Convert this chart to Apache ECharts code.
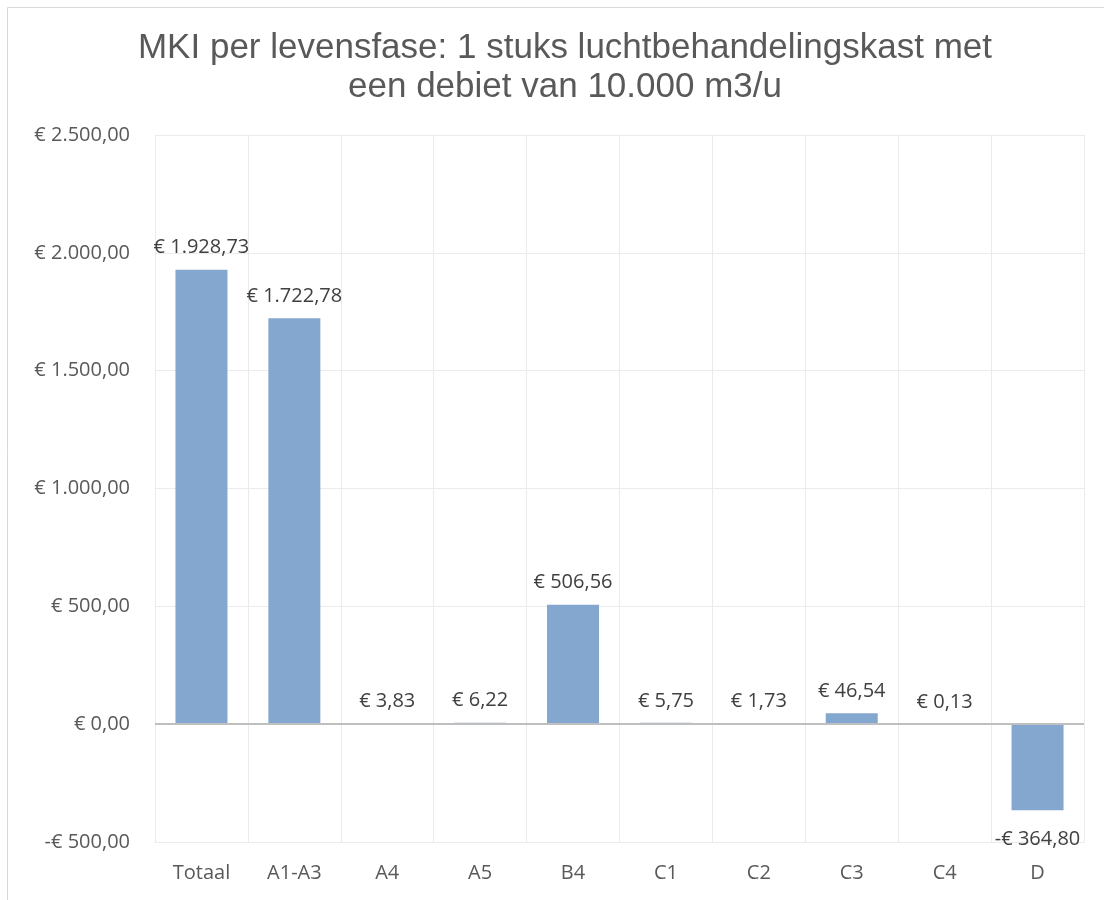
<!DOCTYPE html>
<html>
<head>
<meta charset="utf-8">
<script src="https://cdn.jsdelivr.net/npm/echarts@6/dist/echarts.min.js"></script>
<style>
  html, body { margin: 0; padding: 0; background: #fff; }
  #main { width: 1104px; height: 900px; }
</style>
</head>
<body>
<div id="main"></div>
<script>
var categories = ['Totaal', 'A1-A3', 'A4', 'A5', 'B4', 'C1', 'C2', 'C3', 'C4', 'D'];
var mki = [1928.73, 1722.78, 3.83, 6.22, 506.56, 5.75, 1.73, 46.54, 0.13, -364.80];
var yTicks = { min: -500, max: 2500, step: 500 };

// dutch euro notation: € 1.928,73
var euro = function(v) {
  var neg = v < 0;
  var parts = Math.abs(v).toFixed(2).split('.');
  var whole = parts[0].replace(/\B(?=(\d{3})+(?!\d))/g, '.');
  return (neg ? '-' : '') + '€ ' + whole + ',' + parts[1];
};

var barData = mki.map(function(v) {
  if (v < 0) {
    return { value: v, label: { position: 'bottom', distance: 19 } };
  }
  return v;
});

var myChart = echarts.init(document.getElementById('main'));

var option = {
  backgroundColor: '#fff',
  animation: false,
  title: {
    text: 'MKI per levensfase: 1 stuks luchtbehandelingskast met\neen debiet van 10.000 m3/u',
    left: 560,
    top: 24,
    textAlign: 'center',
    textStyle: {
      fontFamily: 'Liberation Sans',
      fontSize: 35,
      fontWeight: 'normal',
      color: '#595959',
      lineHeight: 39
    }
  },
  graphic: [{
    type: 'rect',
    shape: { x: 7.5, y: 7.5, width: 1200, height: 1000 },
    style: { fill: 'none', stroke: '#d9d9d9', lineWidth: 1 },
    silent: true
  }],
  grid: {
    left: 155,
    right: 20,
    top: 135,
    bottom: 58,
    show: false
  },
  xAxis: {
    type: 'category',
    data: categories,
    axisLine: { onZero: false, lineStyle: { color: '#ebebeb' } },
    axisTick: { show: false },
    splitLine: { show: true, lineStyle: { color: '#ebebeb', width: 1 } },
    axisLabel: {
      margin: 21,
      fontFamily: 'Open Sans',
      fontSize: 20,
      color: '#595959'
    }
  },
  yAxis: {
    type: 'value',
    min: yTicks.min,
    max: yTicks.max,
    interval: yTicks.step,
    axisLine: { show: false },
    axisTick: { show: false },
    splitLine: { lineStyle: { color: '#ebebeb', width: 1 } },
    axisLabel: {
      margin: 25,
      fontFamily: 'Open Sans',
      fontSize: 20,
      color: '#595959',
      formatter: euro
    }
  },
  series: [{
    type: 'bar',
    data: barData,
    barWidth: 52,
    itemStyle: { color: '#84a7cf' },
    label: {
      show: true,
      position: 'top',
      distance: 12,
      fontFamily: 'Open Sans',
      fontSize: 20,
      color: '#404040',
      formatter: function(p) { return euro(p.value); }
    },
    markLine: {
      silent: true,
      symbol: 'none',
      label: { show: false },
      lineStyle: { color: '#bfbfbf', width: 2, type: 'solid' },
      data: [{ yAxis: 0 }]
    }
  }]
};

myChart.setOption(option);
</script>
</body>
</html>
